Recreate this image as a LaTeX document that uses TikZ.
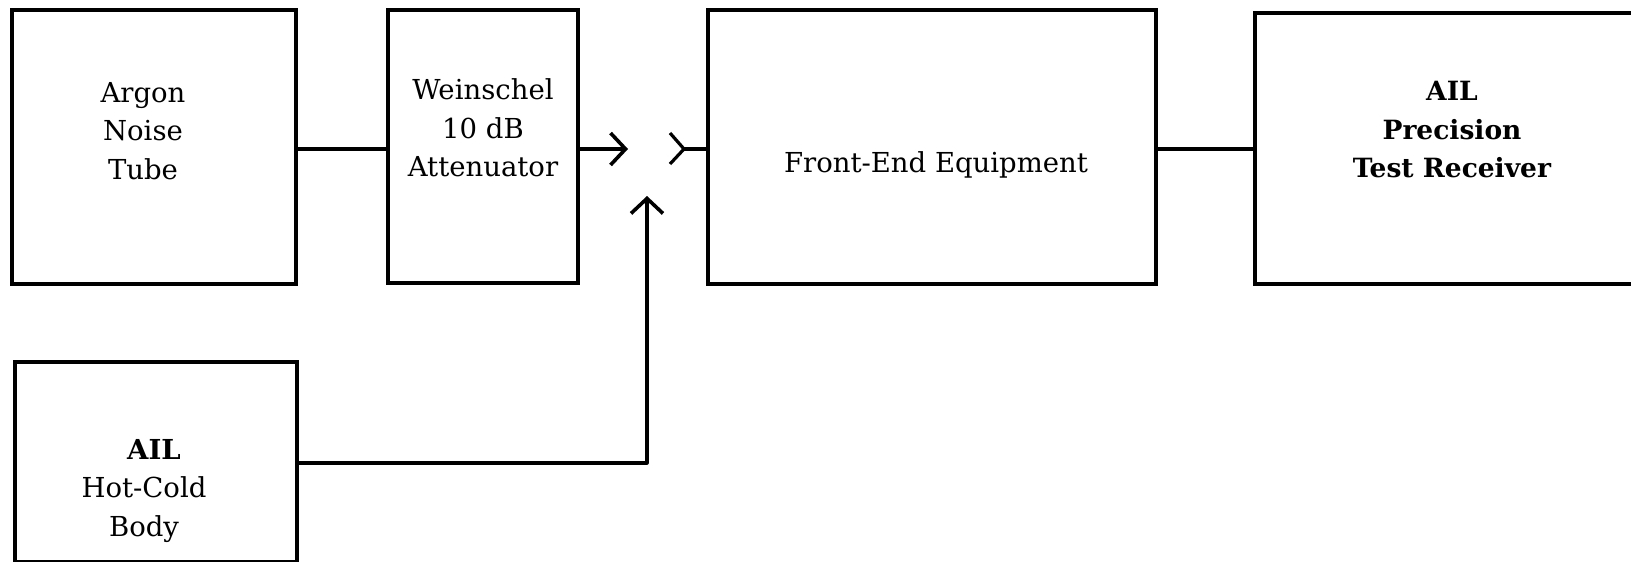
\documentclass[tikz,border=0pt]{standalone}
\usepackage{fontspec}
\setmainfont{DejaVu Serif}
\usetikzlibrary{arrows.meta}
\begin{document}
\begin{tikzpicture}[x=1pt,y=-1pt,
  blk/.style={draw=black,line width=3.2pt,rectangle,inner sep=0pt},
  lbl/.style={align=center,inner sep=0pt,font=\fontsize{27.5}{38.5}\selectfont},
  lblb/.style={align=center,inner sep=0pt,font=\fontsize{26.5}{38.5}\selectfont\bfseries},
  wire/.style={line width=3.2pt,line join=round},
  barb/.style={-{Straight Barb[length=15pt,width=32pt,line width=3.6pt]}}
]
\useasboundingbox (0,0) rectangle (1631,562);
% boxes
\node[blk,minimum width=284pt,minimum height=274pt] (argon) at (154,147) {};
\node[blk,minimum width=190pt,minimum height=273pt] (wein) at (483,146.5) {};
\node[blk,minimum width=448pt,minimum height=274pt] (front) at (932,147) {};
\node[blk,minimum width=420pt,minimum height=271pt] (ail) at (1465,148.5) {};
\node[blk,minimum width=282pt,minimum height=200pt] (hot) at (156,462) {};
% labels
\node[lbl] (targon) at (143,131) {Argon\\Noise\\Tube};
\node[lbl] (twein) at (483,128) {Weinschel\\10 dB\\Attenuator};
\node[lbl] (tfront) at (936,165) {Front-End Equipment};
\node[lblb] (tail) at (1452,130) {AIL\\Precision\\Test Receiver};
\node[lbl] (thot) at (144,491) {\textbf{\hspace{20pt}AIL}\\Hot-Cold\\Body};
% connection points
\coordinate (ly) at (0,149);
\coordinate (plugA) at (628,149);
\coordinate (jackB) at (684,149);
\coordinate (armB1) at (670,133);
\coordinate (armB2) at (670,164);
\coordinate (hy) at (0,463);
\coordinate (tipC) at (647,196);
% connectors
\draw[wire] (argon.east |- ly) -- (wein.west |- ly);
\draw[wire,barb] (wein.east |- ly) -- (plugA);
\draw[wire] (front.west |- ly) -- (jackB);
\draw[wire] (armB1) -- (jackB) -- (armB2);
\draw[wire] (ail.west |- ly) -- (front.east |- ly);
\draw[wire,barb] (hot.east |- hy) -| (tipC);
\end{tikzpicture}
\end{document}
